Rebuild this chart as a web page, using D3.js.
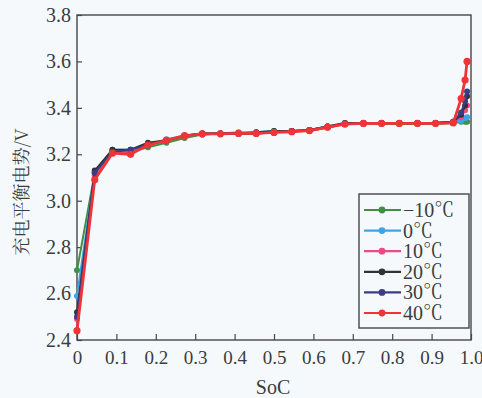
<!DOCTYPE html>
<html>
<head>
<meta charset="utf-8">
<script src="https://cdn.jsdelivr.net/npm/d3@7"></script>
<style>
  html, body { margin: 0; padding: 0; background: #f5f9fb; }
  svg { display: block; }
</style>
</head>
<body>
<svg id="chart" width="482" height="398"></svg>
<script>
const soc = [0, 0.045, 0.09, 0.136, 0.18, 0.227, 0.273, 0.318, 0.364, 0.41, 0.455, 0.5,
  0.545, 0.59, 0.636, 0.68, 0.727, 0.773, 0.818, 0.864, 0.91, 0.955, 0.975, 0.985, 0.99];

const tempLabels = ['\u221210\u2103', '0\u2103', '10\u2103', '20\u2103', '30\u2103', '40\u2103'];
const tempColors = ['#3f8f45', '#3aa6e6', '#ec4a86', '#2f3236', '#3b3c86', '#ee3436'];

const vMinus10 = [2.70, 3.12, 3.21, 3.21, 3.23, 3.25, 3.27, 3.285, 3.29, 3.29, 3.29, 3.295,
  3.30, 3.30, 3.315, 3.33, 3.33, 3.33, 3.33, 3.33, 3.33, 3.335, 3.34, 3.34, 3.34];
const v0 = [2.59, 3.12, 3.22, 3.22, 3.24, 3.265, 3.28, 3.29, 3.29, 3.295, 3.295, 3.30,
  3.30, 3.305, 3.32, 3.335, 3.335, 3.335, 3.335, 3.335, 3.335, 3.34, 3.345, 3.355, 3.36];
const v10 = [2.49, 3.11, 3.21, 3.21, 3.24, 3.26, 3.28, 3.285, 3.29, 3.29, 3.29, 3.295,
  3.30, 3.30, 3.315, 3.33, 3.33, 3.335, 3.335, 3.335, 3.335, 3.34, 3.36, 3.39, 3.41];
const v20 = [2.52, 3.13, 3.22, 3.22, 3.25, 3.26, 3.28, 3.29, 3.29, 3.29, 3.295, 3.30,
  3.30, 3.305, 3.32, 3.335, 3.335, 3.335, 3.335, 3.335, 3.335, 3.34, 3.37, 3.41, 3.45];
const v30 = [2.50, 3.12, 3.21, 3.22, 3.24, 3.26, 3.28, 3.29, 3.29, 3.29, 3.29, 3.295,
  3.30, 3.305, 3.32, 3.33, 3.335, 3.335, 3.335, 3.335, 3.335, 3.34, 3.38, 3.43, 3.47];
const v40 = [2.44, 3.09, 3.205, 3.20, 3.24, 3.26, 3.28, 3.288, 3.288, 3.29, 3.29, 3.294,
  3.297, 3.302, 3.317, 3.33, 3.333, 3.333, 3.333, 3.333, 3.333, 3.335, 3.44, 3.52, 3.60];

const xTicks = [0, 0.1, 0.2, 0.3, 0.4, 0.5, 0.6, 0.7, 0.8, 0.9, 1.0];
const yTicks = [2.4, 2.6, 2.8, 3.0, 3.2, 3.4, 3.6, 3.8];

const series = [vMinus10, v0, v10, v20, v30, v40].map((values, i) => ({
  label: tempLabels[i],
  color: tempColors[i],
  points: values.map((v, j) => [soc[j], v])
}));

const plot = { left: 77, right: 471, top: 15, bottom: 340 };
const axisColor = '#45474a';
const textColor = '#3b3d40';
const serif = "'Liberation Serif', 'Noto Serif CJK SC'";
const cjkSerif = "'Noto Serif CJK SC', 'Liberation Serif'";

const svg = d3.select('#chart');

const x = d3.scaleLinear().domain([0, 1]).range([plot.left, plot.right]);
const y = d3.scaleLinear().domain([2.4, 3.8]).range([plot.bottom, plot.top]);

// axes with inward ticks
const xAxis = svg.append('g')
  .attr('transform', `translate(0,${plot.bottom})`)
  .call(d3.axisBottom(x).tickValues(xTicks).tickSize(-6).tickPadding(11)
    .tickFormat(d => d === 1 ? '1.0' : d3.format('.1~f')(d)));

const yAxis = svg.append('g')
  .attr('transform', `translate(${plot.left},0)`)
  .call(d3.axisLeft(y).tickValues(yTicks).tickSize(-5).tickPadding(6)
    .tickFormat(d3.format('.1f')));

[xAxis, yAxis].forEach((g, i) => {
  g.select('.domain').remove();
  g.selectAll('.tick line').attr('stroke', axisColor).attr('stroke-width', 1.2);
  g.selectAll('.tick text')
    .attr('fill', textColor)
    .style('font-family', serif)
    .style('font-size', i === 0 ? '19px' : '20px');
});

// plot frame
svg.append('rect')
  .attr('x', plot.left)
  .attr('y', plot.top)
  .attr('width', plot.right - plot.left)
  .attr('height', plot.bottom - plot.top)
  .attr('fill', 'none')
  .attr('stroke', axisColor)
  .attr('stroke-width', 1.4);

const line = d3.line()
  .x(d => x(d[0]))
  .y(d => y(d[1]));

series.forEach((s, i) => {
  const isLast = i === series.length - 1;
  svg.append('path')
    .datum(s.points)
    .attr('fill', 'none')
    .attr('stroke', s.color)
    .attr('stroke-width', isLast ? 2.8 : 2)
    .attr('stroke-linejoin', 'round')
    .attr('d', line);

  svg.append('g')
    .selectAll('circle')
    .data(s.points)
    .join('circle')
    .attr('cx', d => x(d[0]))
    .attr('cy', d => y(d[1]))
    .attr('r', isLast ? 3.6 : 3)
    .attr('fill', s.color);
});

// legend
const legend = svg.append('g');
legend.append('rect')
  .attr('x', 359)
  .attr('y', 194)
  .attr('width', 110)
  .attr('height', 134)
  .attr('fill', '#f5f9fb')
  .attr('stroke', axisColor)
  .attr('stroke-width', 1.4);

series.forEach((s, i) => {
  const cy = 210 + i * 20.6;
  legend.append('line')
    .attr('x1', 364)
    .attr('x2', 401)
    .attr('y1', cy)
    .attr('y2', cy)
    .attr('stroke', s.color)
    .attr('stroke-width', 2.2);
  legend.append('circle')
    .attr('cx', 382)
    .attr('cy', cy)
    .attr('r', 3.4)
    .attr('fill', s.color);
  legend.append('text')
    .attr('x', 403)
    .attr('y', cy + 7)
    .attr('fill', textColor)
    .style('font-family', serif)
    .style('font-size', '20px')
    .text(s.label);
});

// axis titles
svg.append('text')
  .attr('x', 273)
  .attr('y', 394)
  .attr('text-anchor', 'middle')
  .attr('fill', textColor)
  .style('font-family', serif)
  .style('font-size', '20px')
  .text('SoC');

svg.append('text')
  .attr('transform', 'translate(28,192) rotate(-90)')
  .attr('text-anchor', 'middle')
  .attr('fill', textColor)
  .style('font-family', cjkSerif)
  .style('font-size', '18px')
  .text('充电平衡电势/V');
</script>
</body>
</html>
